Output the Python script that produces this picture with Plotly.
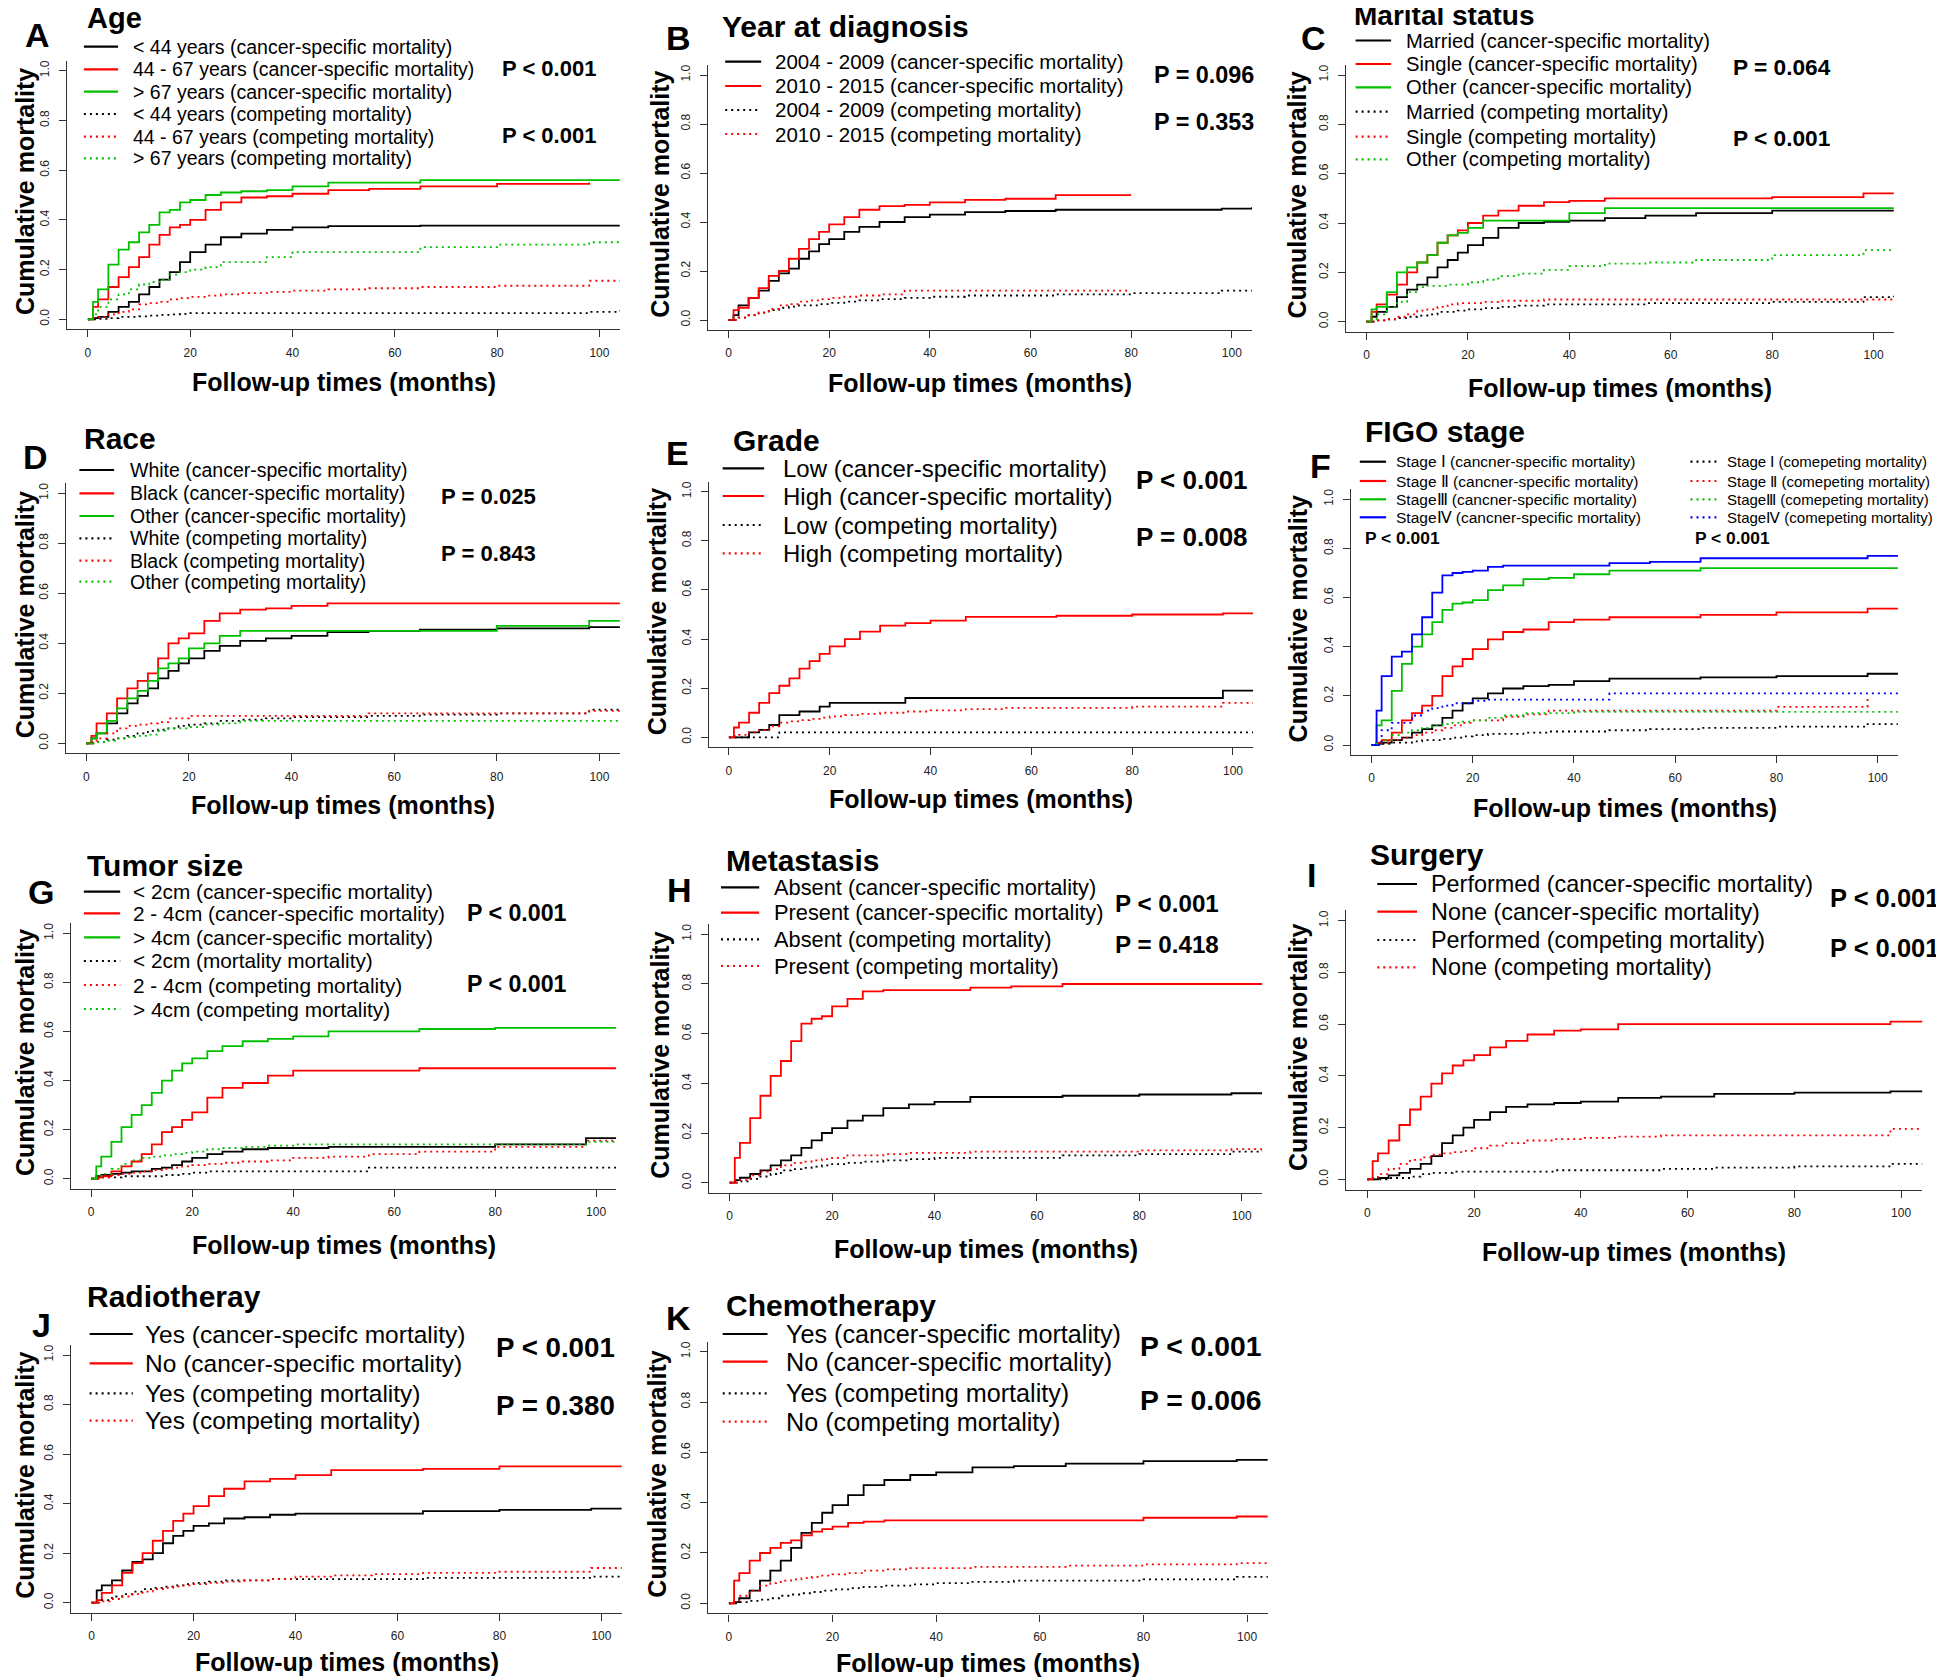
import plotly.graph_objects as go

W, H = 1944, 1678
FONT = "Liberation Sans, Arial, sans-serif"

# follow-up months at which each cumulative-incidence curve is read
months = [0, 1, 2, 4, 6, 8, 10, 12, 14, 16, 18, 20, 23, 26, 30, 35, 40, 47, 55, 65, 80, 98, 104]

# A  Age
a_lt44_csm = [0, 0.005, 0.01, 0.03, 0.05, 0.07, 0.10, 0.13, 0.16, 0.19, 0.23, 0.27, 0.30, 0.33, 0.345, 0.36, 0.37, 0.375, 0.375, 0.377, 0.377, 0.377, 0.377]
a_4467_csm = [0, 0.05, 0.08, 0.13, 0.17, 0.21, 0.25, 0.30, 0.34, 0.37, 0.38, 0.40, 0.44, 0.47, 0.49, 0.495, 0.505, 0.52, 0.525, 0.535, 0.545, 0.55, None]
a_gt67_csm = [0, 0.07, 0.12, 0.22, 0.28, 0.31, 0.35, 0.38, 0.43, 0.44, 0.47, 0.48, 0.50, 0.51, 0.515, 0.52, 0.535, 0.55, 0.55, 0.56, 0.56, 0.56, 0.56]
a_lt44_cm = [0, 0, 0.002, 0.005, 0.01, 0.01, 0.012, 0.015, 0.018, 0.02, 0.022, 0.025, 0.025, 0.025, 0.025, 0.025, 0.025, 0.025, 0.025, 0.025, 0.025, 0.03, 0.035]
a_4467_cm = [0, 0.005, 0.01, 0.02, 0.03, 0.04, 0.06, 0.065, 0.07, 0.08, 0.085, 0.09, 0.095, 0.10, 0.105, 0.11, 0.115, 0.12, 0.125, 0.13, 0.135, 0.155, 0.155]
a_gt67_cm = [0, 0.02, 0.05, 0.08, 0.10, 0.12, 0.14, 0.15, 0.16, 0.18, 0.19, 0.20, 0.21, 0.23, 0.23, 0.25, 0.27, 0.27, 0.27, 0.29, 0.30, 0.31, 0.31]

# B  Year at diagnosis
b_0409_csm = [0, 0.02, 0.06, 0.09, 0.12, 0.16, 0.19, 0.21, 0.25, 0.28, 0.31, 0.33, 0.36, 0.38, 0.40, 0.42, 0.43, 0.44, 0.445, 0.45, 0.45, 0.455, 0.46]
b_1015_csm = [0, 0.04, 0.05, 0.09, 0.13, 0.18, 0.20, 0.25, 0.29, 0.33, 0.36, 0.39, 0.42, 0.45, 0.465, 0.47, 0.48, 0.49, 0.495, 0.51, 0.51, None, None]
b_0409_cm = [0, 0, 0.01, 0.02, 0.03, 0.04, 0.05, 0.055, 0.06, 0.06, 0.065, 0.07, 0.075, 0.08, 0.085, 0.09, 0.095, 0.10, 0.10, 0.105, 0.11, 0.12, 0.12]
b_1015_cm = [0, 0, 0.01, 0.02, 0.03, 0.045, 0.06, 0.065, 0.075, 0.08, 0.085, 0.09, 0.095, 0.10, 0.105, 0.12, 0.12, 0.12, 0.12, 0.12, 0.12, None, None]

# C  Marital status
c_married_csm = [0, 0.02, 0.04, 0.06, 0.10, 0.13, 0.15, 0.18, 0.22, 0.25, 0.28, 0.31, 0.34, 0.38, 0.40, 0.405, 0.41, 0.42, 0.43, 0.44, 0.45, 0.45, 0.45]
c_single_csm = [0, 0.04, 0.07, 0.11, 0.15, 0.20, 0.24, 0.27, 0.32, 0.35, 0.37, 0.40, 0.43, 0.45, 0.47, 0.485, 0.49, 0.50, 0.50, 0.50, 0.505, 0.52, 0.52]
c_other_csm = [0, 0.05, 0.06, 0.12, 0.20, 0.22, 0.24, 0.27, 0.32, 0.35, 0.36, 0.38, 0.41, 0.41, 0.41, 0.41, 0.44, 0.46, 0.46, 0.46, 0.46, 0.46, 0.46]
c_married_cm = [0, 0, 0.005, 0.01, 0.015, 0.02, 0.025, 0.03, 0.04, 0.04, 0.045, 0.05, 0.055, 0.06, 0.065, 0.07, 0.07, 0.07, 0.075, 0.075, 0.08, 0.10, 0.105]
c_single_cm = [0, 0, 0.005, 0.01, 0.02, 0.03, 0.045, 0.05, 0.06, 0.07, 0.075, 0.075, 0.08, 0.085, 0.085, 0.09, 0.09, 0.09, 0.09, 0.09, 0.09, 0.09, 0.09]
c_other_cm = [0, 0.01, 0.03, 0.06, 0.08, 0.12, 0.14, 0.145, 0.145, 0.15, 0.15, 0.16, 0.17, 0.185, 0.195, 0.21, 0.225, 0.235, 0.24, 0.25, 0.27, 0.29, 0.29]

# D  Race
d_white_csm = [0, 0.02, 0.04, 0.08, 0.12, 0.16, 0.19, 0.22, 0.26, 0.29, 0.32, 0.34, 0.37, 0.39, 0.41, 0.42, 0.43, 0.445, 0.45, 0.455, 0.46, 0.465, 0.465]
d_black_csm = [0, 0.03, 0.08, 0.12, 0.18, 0.22, 0.25, 0.28, 0.34, 0.40, 0.42, 0.44, 0.49, 0.52, 0.535, 0.54, 0.55, 0.56, 0.56, 0.56, 0.56, 0.56, 0.56]
d_other_csm = [0, 0.02, 0.04, 0.09, 0.14, 0.18, 0.21, 0.25, 0.30, 0.32, 0.34, 0.38, 0.40, 0.43, 0.45, 0.45, 0.45, 0.45, 0.45, 0.45, 0.47, 0.49, 0.49]
d_white_cm = [0, 0, 0.005, 0.015, 0.02, 0.03, 0.04, 0.05, 0.055, 0.06, 0.07, 0.075, 0.08, 0.09, 0.095, 0.10, 0.105, 0.105, 0.11, 0.115, 0.12, 0.135, 0.135]
d_black_cm = [0, 0.005, 0.02, 0.04, 0.06, 0.07, 0.075, 0.08, 0.085, 0.10, 0.10, 0.11, 0.11, 0.11, 0.11, 0.11, 0.11, 0.11, 0.12, 0.12, 0.12, 0.13, 0.13]
d_other_cm = [0, 0, 0.005, 0.01, 0.02, 0.025, 0.03, 0.035, 0.05, 0.06, 0.06, 0.065, 0.075, 0.08, 0.09, 0.09, 0.09, 0.09, 0.09, 0.09, 0.09, 0.09, 0.09]

# E  Grade
e_low_csm = [0, 0, 0, 0.02, 0.03, 0.05, 0.09, 0.09, 0.105, 0.105, 0.125, 0.14, 0.14, 0.14, 0.14, 0.16, 0.16, 0.16, 0.16, 0.16, 0.16, 0.19, 0.19]
e_high_csm = [0, 0.04, 0.06, 0.10, 0.14, 0.18, 0.21, 0.24, 0.28, 0.31, 0.34, 0.37, 0.40, 0.43, 0.455, 0.465, 0.475, 0.49, 0.49, 0.495, 0.50, 0.505, 0.505]
e_low_cm = [0, 0, 0, 0, 0, 0, 0.02, 0.02, 0.02, 0.02, 0.02, 0.02, 0.02, 0.02, 0.02, 0.02, 0.02, 0.02, 0.02, 0.02, 0.02, 0.02, 0.02]
e_high_cm = [0, 0.005, 0.01, 0.02, 0.03, 0.045, 0.06, 0.065, 0.07, 0.075, 0.08, 0.085, 0.09, 0.095, 0.10, 0.105, 0.11, 0.115, 0.12, 0.12, 0.125, 0.14, 0.14]

# F  FIGO stage
f_s1_csm = [0, 0.005, 0.01, 0.02, 0.03, 0.05, 0.065, 0.08, 0.11, 0.14, 0.17, 0.19, 0.21, 0.23, 0.24, 0.245, 0.26, 0.27, 0.27, 0.275, 0.28, 0.29, 0.29]
f_s2_csm = [0, 0.01, 0.02, 0.05, 0.10, 0.13, 0.16, 0.20, 0.28, 0.32, 0.35, 0.39, 0.43, 0.46, 0.47, 0.50, 0.51, 0.52, 0.52, 0.53, 0.54, 0.555, 0.555]
f_s3_csm = [0, 0.08, 0.10, 0.22, 0.33, 0.40, 0.45, 0.50, 0.55, 0.575, 0.58, 0.59, 0.63, 0.65, 0.675, 0.68, 0.695, 0.71, 0.71, 0.72, 0.72, 0.72, 0.72]
f_s4_csm = [0, 0.14, 0.28, 0.36, 0.38, 0.45, 0.52, 0.62, 0.69, 0.70, 0.705, 0.71, 0.725, 0.73, 0.73, 0.73, 0.73, 0.74, 0.745, 0.76, 0.76, 0.77, 0.77]
f_s1_cm = [0, 0, 0.005, 0.01, 0.01, 0.015, 0.02, 0.02, 0.025, 0.03, 0.035, 0.04, 0.045, 0.045, 0.05, 0.055, 0.055, 0.06, 0.065, 0.07, 0.075, 0.085, 0.085]
f_s2_cm = [0, 0, 0.01, 0.02, 0.03, 0.04, 0.05, 0.06, 0.07, 0.08, 0.09, 0.10, 0.10, 0.115, 0.125, 0.14, 0.14, 0.14, 0.14, 0.14, 0.155, 0.20, None]
f_s3_cm = [0, 0.005, 0.02, 0.04, 0.05, 0.06, 0.07, 0.08, 0.085, 0.09, 0.095, 0.10, 0.11, 0.12, 0.13, 0.13, 0.135, 0.135, 0.135, 0.135, 0.135, 0.135, 0.135]
f_s4_cm = [0, 0, 0.06, 0.09, 0.09, 0.12, 0.14, 0.15, 0.16, 0.17, 0.17, 0.18, 0.185, 0.185, 0.185, 0.185, 0.185, 0.21, 0.21, 0.21, 0.21, 0.21, 0.21]

# G  Tumor size
g_lt2_csm = [0, 0.01, 0.015, 0.02, 0.025, 0.03, 0.03, 0.04, 0.045, 0.055, 0.07, 0.085, 0.10, 0.11, 0.12, 0.125, 0.125, 0.13, 0.13, 0.13, 0.14, 0.165, 0.165]
g_24_csm = [0, 0.005, 0.01, 0.03, 0.05, 0.07, 0.10, 0.14, 0.19, 0.21, 0.24, 0.27, 0.33, 0.37, 0.39, 0.42, 0.44, 0.44, 0.44, 0.45, 0.45, 0.45, 0.45]
g_gt4_csm = [0, 0.05, 0.09, 0.15, 0.21, 0.26, 0.30, 0.35, 0.40, 0.44, 0.47, 0.49, 0.52, 0.54, 0.56, 0.57, 0.58, 0.60, 0.60, 0.61, 0.615, 0.615, 0.615]
g_lt2_cm = [0, 0, 0.005, 0.005, 0.01, 0.01, 0.01, 0.01, 0.015, 0.015, 0.02, 0.025, 0.03, 0.03, 0.03, 0.03, 0.03, 0.03, 0.045, 0.045, 0.045, 0.045, 0.045]
g_24_cm = [0, 0, 0.005, 0.015, 0.02, 0.025, 0.03, 0.035, 0.04, 0.045, 0.05, 0.055, 0.06, 0.065, 0.07, 0.075, 0.085, 0.09, 0.10, 0.11, 0.13, 0.155, 0.155]
g_gt4_cm = [0, 0.005, 0.02, 0.04, 0.06, 0.075, 0.085, 0.09, 0.095, 0.10, 0.105, 0.11, 0.12, 0.125, 0.13, 0.135, 0.14, 0.14, 0.14, 0.14, 0.14, 0.15, 0.155]

# H  Metastasis
h_abs_csm = [0, 0.01, 0.02, 0.035, 0.05, 0.07, 0.09, 0.11, 0.14, 0.17, 0.20, 0.22, 0.25, 0.27, 0.30, 0.315, 0.325, 0.345, 0.345, 0.35, 0.355, 0.36, 0.36]
h_pre_csm = [0, 0.10, 0.16, 0.26, 0.35, 0.43, 0.49, 0.57, 0.64, 0.66, 0.67, 0.71, 0.74, 0.77, 0.775, 0.775, 0.775, 0.785, 0.79, 0.80, 0.80, 0.80, 0.80]
h_abs_cm = [0, 0, 0.005, 0.015, 0.025, 0.035, 0.05, 0.055, 0.06, 0.065, 0.07, 0.075, 0.08, 0.085, 0.09, 0.095, 0.10, 0.10, 0.10, 0.11, 0.115, 0.125, 0.13]
h_pre_cm = [0, 0, 0.01, 0.03, 0.045, 0.055, 0.07, 0.08, 0.085, 0.09, 0.095, 0.10, 0.11, 0.11, 0.115, 0.12, 0.12, 0.125, 0.125, 0.125, 0.13, 0.135, 0.135]

# I  Surgery
i_perf_csm = [0, 0, 0.005, 0.015, 0.025, 0.04, 0.06, 0.09, 0.14, 0.17, 0.20, 0.23, 0.26, 0.28, 0.29, 0.295, 0.30, 0.315, 0.32, 0.33, 0.335, 0.34, 0.34]
i_none_csm = [0, 0.07, 0.10, 0.15, 0.21, 0.27, 0.32, 0.37, 0.41, 0.44, 0.46, 0.48, 0.51, 0.535, 0.56, 0.575, 0.58, 0.60, 0.60, 0.60, 0.60, 0.61, 0.61]
i_perf_cm = [0, 0, 0, 0.005, 0.005, 0.01, 0.02, 0.025, 0.025, 0.03, 0.03, 0.03, 0.03, 0.03, 0.03, 0.035, 0.035, 0.035, 0.04, 0.045, 0.05, 0.06, 0.06]
i_none_cm = [0, 0.005, 0.02, 0.04, 0.06, 0.075, 0.085, 0.095, 0.10, 0.105, 0.11, 0.12, 0.13, 0.14, 0.15, 0.155, 0.16, 0.165, 0.17, 0.17, 0.17, 0.195, 0.195]

# J  Radiotherapy
j_yes_csm = [0, 0.05, 0.07, 0.09, 0.13, 0.165, 0.175, 0.20, 0.24, 0.27, 0.29, 0.31, 0.32, 0.34, 0.345, 0.355, 0.36, 0.36, 0.36, 0.37, 0.375, 0.38, 0.38]
j_no_csm = [0, 0.01, 0.04, 0.07, 0.12, 0.16, 0.20, 0.25, 0.29, 0.33, 0.36, 0.39, 0.43, 0.46, 0.49, 0.50, 0.515, 0.535, 0.535, 0.54, 0.55, 0.55, 0.55]
j_yes_cm = [0, 0, 0.01, 0.025, 0.035, 0.045, 0.055, 0.06, 0.065, 0.07, 0.075, 0.08, 0.085, 0.09, 0.09, 0.095, 0.095, 0.095, 0.095, 0.10, 0.10, 0.105, 0.105]
j_no_cm = [0, 0, 0.005, 0.015, 0.025, 0.035, 0.045, 0.055, 0.06, 0.065, 0.07, 0.075, 0.08, 0.085, 0.09, 0.095, 0.105, 0.11, 0.115, 0.12, 0.125, 0.14, 0.145]

# K  Chemotherapy
k_yes_csm = [0, 0.005, 0.02, 0.05, 0.09, 0.13, 0.17, 0.22, 0.28, 0.32, 0.36, 0.39, 0.43, 0.47, 0.49, 0.51, 0.52, 0.54, 0.545, 0.555, 0.565, 0.57, 0.57]
k_no_csm = [0, 0.09, 0.12, 0.17, 0.20, 0.22, 0.24, 0.25, 0.27, 0.285, 0.295, 0.305, 0.32, 0.325, 0.33, 0.33, 0.33, 0.33, 0.33, 0.33, 0.34, 0.345, 0.345]
k_yes_cm = [0, 0, 0.005, 0.01, 0.015, 0.02, 0.03, 0.035, 0.04, 0.045, 0.05, 0.055, 0.06, 0.065, 0.07, 0.075, 0.08, 0.085, 0.09, 0.09, 0.095, 0.105, 0.11]
k_no_cm = [0, 0.01, 0.03, 0.05, 0.07, 0.08, 0.09, 0.095, 0.10, 0.105, 0.11, 0.115, 0.12, 0.13, 0.135, 0.14, 0.14, 0.145, 0.145, 0.15, 0.155, 0.16, 0.17]

x_ticks = [0, 20, 40, 60, 80, 100]
y_ticks = [0, 0.2, 0.4, 0.6, 0.8, 1.0]
y_ticktext = ["0.0", "0.2", "0.4", "0.6", "0.8", "1.0"]

BK, RD, GN, BL = "#000000", "#ff0000", "#00c000", "#0000ff"
SOLID, DOT = "solid", "2px,4px"

csm = "(cancer-specific mortality)"
cm = "(competing mortality)"

panels = [
    dict(letter="A", title="Age",
         curves=[(f"&lt; 44 years {csm}", a_lt44_csm, BK, SOLID), (f"44 - 67 years {csm}", a_4467_csm, RD, SOLID),
                 (f"&gt; 67 years {csm}", a_gt67_csm, GN, SOLID), (f"&lt; 44 years {cm}", a_lt44_cm, BK, DOT),
                 (f"44 - 67 years {cm}", a_4467_cm, RD, DOT), (f"&gt; 67 years {cm}", a_gt67_cm, GN, DOT)],
         pvals=["P &lt; 0.001", "P &lt; 0.001"],
         geo=(86.9, 598.4, 319.3, 70.7), letter_xy=(36.7, 35), title_xy=(83.7, 18), title_fs=29,
         leg=(82.9, 117.1, 129.8), rows=[46.7, 69.3, 91.7, 114, 136.7, 158.3], leg_fs=19.5,
         p_x=498.8, p_y=[68.3, 135], p_fs=22, yt_off=48, xt_off=53),
    dict(letter="B", title="Year at diagnosis",
         curves=[(f"2004 - 2009 {csm}", b_0409_csm, BK, SOLID), (f"2010 - 2015 {csm}", b_1015_csm, RD, SOLID),
                 (f"2004 - 2009 {cm}", b_0409_cm, BK, DOT), (f"2010 - 2015 {cm}", b_1015_cm, RD, DOT)],
         pvals=["P = 0.096", "P = 0.353"],
         geo=(727.5, 1230.8, 320, 75), letter_xy=(677.3, 38.3), title_xy=(718.8, 26.7),
         leg=(724.2, 760.2, 771.8), rows=[61.7, 86, 110, 134], leg_fs=20.5,
         p_x=1150.8, p_y=[75, 121.7], p_fs=23.4, yt_off=49, xt_off=53),
    dict(letter="C", title="Marital status",
         curves=[(f"Married {csm}", c_married_csm, BK, SOLID), (f"Single {csm}", c_single_csm, RD, SOLID),
                 (f"Other {csm}", c_other_csm, GN, SOLID), (f"Married {cm}", c_married_cm, BK, DOT),
                 (f"Single {cm}", c_single_cm, RD, DOT), (f"Other {cm}", c_other_cm, GN, DOT)],
         pvals=["P = 0.064", "P &lt; 0.001"],
         geo=(1365.5, 1872.6, 321.7, 75), letter_xy=(1312.9, 38.3), title_xy=(1350.5, 16), title_fs=28,
         leg=(1354.6, 1390.1, 1403.4), rows=[40.5, 64, 87.3, 111.7, 136.7, 159.3], leg_fs=20.2,
         p_x=1730, p_y=[66.7, 138.3], p_fs=22.7, yt_off=49, xt_off=56),
    dict(letter="D", title="Race",
         curves=[(f"White {csm}", d_white_csm, BK, SOLID), (f"Black {csm}", d_black_csm, RD, SOLID),
                 (f"Other {csm}", d_other_csm, GN, SOLID), (f"White {cm}", d_white_cm, BK, DOT),
                 (f"Black {cm}", d_black_cm, RD, DOT), (f"Other {cm}", d_other_cm, GN, DOT)],
         pvals=["P = 0.025", "P = 0.843"],
         geo=(85.3, 598.4, 743.3, 493.3), letter_xy=(34.7, 456.7), title_xy=(80.8, 438.3),
         leg=(78.4, 113.1, 126.5), rows=[470, 493.3, 516, 538.3, 560.7, 581.7], leg_fs=19.5,
         p_x=437.6, p_y=[496, 553.3], p_fs=22.1, yt_off=53, xt_off=52),
    dict(letter="E", title="Grade",
         curves=[(f"Low {csm}", e_low_csm, BK, SOLID), (f"High {csm}", e_high_csm, RD, SOLID),
                 (f"Low {cm}", e_low_cm, BK, DOT), (f"High {cm}", e_high_cm, RD, DOT)],
         pvals=["P &lt; 0.001", "P = 0.008"],
         geo=(727.9, 1232, 737.3, 491.7), letter_xy=(676.5, 453.3), title_xy=(730.4, 440),
         leg=(721.7, 763.1, 779.7), rows=[468.3, 496, 525, 553.3], leg_fs=24,
         p_x=1132.5, p_y=[480, 536.7], p_fs=26, yt_off=52, xt_off=52),
    dict(letter="F", title="FIGO stage",
         curves=[("Stage Ⅰ (cancner-specific mortality)", f_s1_csm, BK, SOLID),
                 ("Stage Ⅱ (cancner-specific mortality)", f_s2_csm, RD, SOLID),
                 ("StageⅢ (cancner-specific mortality)", f_s3_csm, GN, SOLID),
                 ("StageⅣ (cancner-specific mortality)", f_s4_csm, BL, SOLID),
                 ("Stage Ⅰ (comepeting mortality)", f_s1_cm, BK, DOT),
                 ("Stage Ⅱ (comepeting mortality)", f_s2_cm, RD, DOT),
                 ("StageⅢ (comepeting mortality)", f_s3_cm, GN, DOT),
                 ("StageⅣ (comepeting mortality)", f_s4_cm, BL, DOT)],
         pvals=["P &lt; 0.001", "P &lt; 0.001"],
         geo=(1370.5, 1876.7, 745, 499.3), letter_xy=(1319.2, 466), title_xy=(1361.7, 431.7),
         leg=(1358.8, 1385.1, 1393), leg2=(1689.5, 1715.4, 1723.7), rows=[461.7, 481, 499.3, 517.3], leg_fs=15.5,
         leg2_fs=15, p_xy=[(1361.7, 538.3), (1692.4, 538.3)], p_fs=17.4, yt_off=53, xt_off=53),
    dict(letter="G", title="Tumor size",
         curves=[(f"&lt; 2cm {csm}", g_lt2_csm, BK, SOLID), (f"2 - 4cm {csm}", g_24_csm, RD, SOLID),
                 (f"&gt; 4cm {csm}", g_gt4_csm, GN, SOLID), ("&lt; 2cm (mortality mortality)", g_lt2_cm, BK, DOT),
                 (f"2 - 4cm {cm}", g_24_cm, RD, DOT), (f"&gt; 4cm {cm}", g_gt4_cm, GN, DOT)],
         pvals=["P &lt; 0.001", "P &lt; 0.001"],
         geo=(90.2, 595.1, 1178.7, 933.3), letter_xy=(40, 891.7), title_xy=(83.7, 865),
         leg=(82.9, 119.2, 129.8), rows=[891.7, 913.3, 937.3, 961, 985, 1009], leg_fs=20.8,
         p_x=464, p_y=[913.3, 984], p_fs=23.2, yt_off=58, xt_off=56),
    dict(letter="H", title="Metastasis",
         curves=[(f"Absent {csm}", h_abs_csm, BK, SOLID), (f"Present {csm}", h_pre_csm, RD, SOLID),
                 (f"Absent {cm}", h_abs_cm, BK, DOT), (f"Present {cm}", h_pre_cm, RD, DOT)],
         pvals=["P &lt; 0.001", "P = 0.418"],
         geo=(728.7, 1240.7, 1182.7, 934.3), letter_xy=(678.1, 890), title_xy=(722.9, 860.7),
         leg=(720, 758.2, 770.6), rows=[887.3, 912.7, 939.3, 966], leg_fs=21.8,
         p_x=1111.8, p_y=[903.3, 945], p_fs=24.2, yt_off=50, xt_off=56),
    dict(letter="I", title="Surgery",
         curves=[(f"Performed {csm}", i_perf_csm, BK, SOLID), (f"None {csm}", i_none_csm, RD, SOLID),
                 (f"Performed {cm}", i_perf_cm, BK, DOT), (f"None {cm}", i_none_cm, RD, DOT)],
         pvals=["P &lt; 0.001", "P &lt; 0.001"],
         geo=(1366.3, 1900.1, 1179.3, 920.7), letter_xy=(1310, 875), title_xy=(1367.1, 854),
         leg=(1376.3, 1416, 1428.4), rows=[884, 911.7, 940, 967.3], leg_fs=23.4,
         p_x=1827, p_y=[898.3, 948.3], p_fs=25.5, yt_off=48, xt_off=62),
    dict(letter="J", title="Radiotheray",
         curves=[("Yes (cancer-specifc mortality)", j_yes_csm, BK, SOLID), (f"No {csm}", j_no_csm, RD, SOLID),
                 (f"Yes {cm}", j_yes_cm, BK, DOT), (f"Yes {cm}", j_no_cm, RD, DOT)],
         pvals=["P &lt; 0.001", "P = 0.380"],
         geo=(90.6, 600.4, 1602.7, 1355), letter_xy=(40.8, 1325), title_xy=(83.7, 1296.7),
         leg=(88.6, 131.8, 142), rows=[1334, 1363.3, 1393.3, 1420.7], leg_fs=24.5,
         p_x=493, p_y=[1347.3, 1405.7], p_fs=27.7, yt_off=57, xt_off=49),
    dict(letter="K", title="Chemotherapy",
         curves=[(f"Yes {csm}", k_yes_csm, BK, SOLID), (f"No {csm}", k_no_csm, RD, SOLID),
                 (f"Yes {cm}", k_yes_cm, BK, DOT), (f"No {cm}", k_no_cm, RD, DOT)],
         pvals=["P &lt; 0.001", "P = 0.006"],
         geo=(727.9, 1246.1, 1603.3, 1351.7), letter_xy=(677.3, 1318.3), title_xy=(722.9, 1305),
         leg=(721.7, 766.5, 783), rows=[1334, 1361.7, 1393.3, 1421.7], leg_fs=25.2,
         p_x=1136.7, p_y=[1346, 1400], p_fs=28.3, yt_off=52, xt_off=50),
]

# small global correction of the measured positions
DX, DY = -7, -8


def fx(px):
    return (px + DX) / W


def fy(py):
    return 1 - (py + DY) / H


fig = go.Figure()
annotations = []
shapes = []
axes = {}

for idx, p in enumerate(panels, start=1):
    sfx = "" if idx == 1 else str(idx)
    x0, x100, y0, y1 = p["geo"]
    sx = (x100 - x0) / 100
    sy = y0 - y1
    left, right = x0 - 4 * sx, x0 + 104 * sx
    top, bottom = y1 - 0.04 * sy, y0 + 0.04 * sy

    axis_common = dict(showgrid=False, zeroline=False, showline=True, linecolor="#333", linewidth=1.3,
                       ticks="outside", ticklen=7, tickwidth=1.2, tickcolor="#333",
                       tickfont=dict(family=FONT, size=12, color="#222"), ticklabelstandoff=5,
                       fixedrange=True)
    axes["xaxis" + sfx] = dict(axis_common, domain=[fx(left), fx(right)], range=[-4, 104],
                               tickvals=x_ticks, anchor="y" + sfx)
    axes["yaxis" + sfx] = dict(axis_common, domain=[fy(bottom), fy(top)], range=[-0.04, 1.04],
                               tickvals=y_ticks, ticktext=y_ticktext, tickangle=-90, anchor="x" + sfx)

    for name, vals, color, dash in p["curves"]:
        fig.add_trace(go.Scatter(x=months, y=vals, mode="lines", name=name, showlegend=False,
                                 line=dict(color=color, width=1.8, dash=dash, shape="hv"),
                                 xaxis="x" + sfx, yaxis="y" + sfx, hoverinfo="skip"))

    # panel letter and title
    lx, ly = p["letter_xy"]
    annotations.append(dict(x=fx(lx), y=fy(ly), text=f"<b>{p['letter']}</b>", xanchor="center", yanchor="middle",
                            font=dict(family=FONT, size=34, color="black")))
    tx, ty = p["title_xy"]
    annotations.append(dict(x=fx(tx), y=fy(ty), text=f"<b>{p['title']}</b>", xanchor="left", yanchor="middle",
                            font=dict(family=FONT, size=p.get("title_fs", 30), color="black")))

    # legend (line samples plus text, like R's legend())
    n = len(p["curves"])
    if "leg2" in p:
        cols = [(p["leg"], p["curves"][:n // 2], p["leg_fs"]), (p["leg2"], p["curves"][n // 2:], p["leg2_fs"])]
    else:
        cols = [(p["leg"], p["curves"], p["leg_fs"])]
    for (lx0, lx1, ltx), items, fs in cols:
        for row_y, (name, _, color, dash) in zip(p["rows"], items):
            shapes.append(dict(type="line", xref="paper", yref="paper", x0=fx(lx0), x1=fx(lx1),
                               y0=fy(row_y), y1=fy(row_y), line=dict(color=color, width=2.2, dash=dash)))
            annotations.append(dict(x=fx(ltx), y=fy(row_y), text=name, xanchor="left", yanchor="middle",
                                    font=dict(family=FONT, size=fs, color="black")))

    # P values
    pxy = p.get("p_xy") or [(p["p_x"], yy) for yy in p["p_y"]]
    for (ppx, ppy), txt in zip(pxy, p["pvals"]):
        annotations.append(dict(x=fx(ppx), y=fy(ppy), text=f"<b>{txt}</b>", xanchor="left", yanchor="middle",
                                font=dict(family=FONT, size=p["p_fs"], color="black")))

    # axis titles
    annotations.append(dict(x=fx((left + right) / 2), y=fy(bottom + p["xt_off"]),
                            text="<b>Follow-up times (months)</b>", xanchor="center", yanchor="middle",
                            font=dict(family=FONT, size=25, color="black")))
    yt_x = max(left - p["yt_off"] + DX, 17) - DX
    annotations.append(dict(x=fx(yt_x), y=fy((top + bottom) / 2 - 3),
                            text="<b>Cumulative mortality</b>", textangle=-90, xanchor="center", yanchor="middle",
                            font=dict(family=FONT, size=25, color="black")))

for a in annotations:
    a.update(xref="paper", yref="paper", showarrow=False)

fig.update_layout(width=W, height=H, autosize=False, margin=dict(l=0, r=0, t=0, b=0),
                  paper_bgcolor="white", plot_bgcolor="white", showlegend=False,
                  annotations=annotations, shapes=shapes, **axes)

fig.write_html("out.html")
